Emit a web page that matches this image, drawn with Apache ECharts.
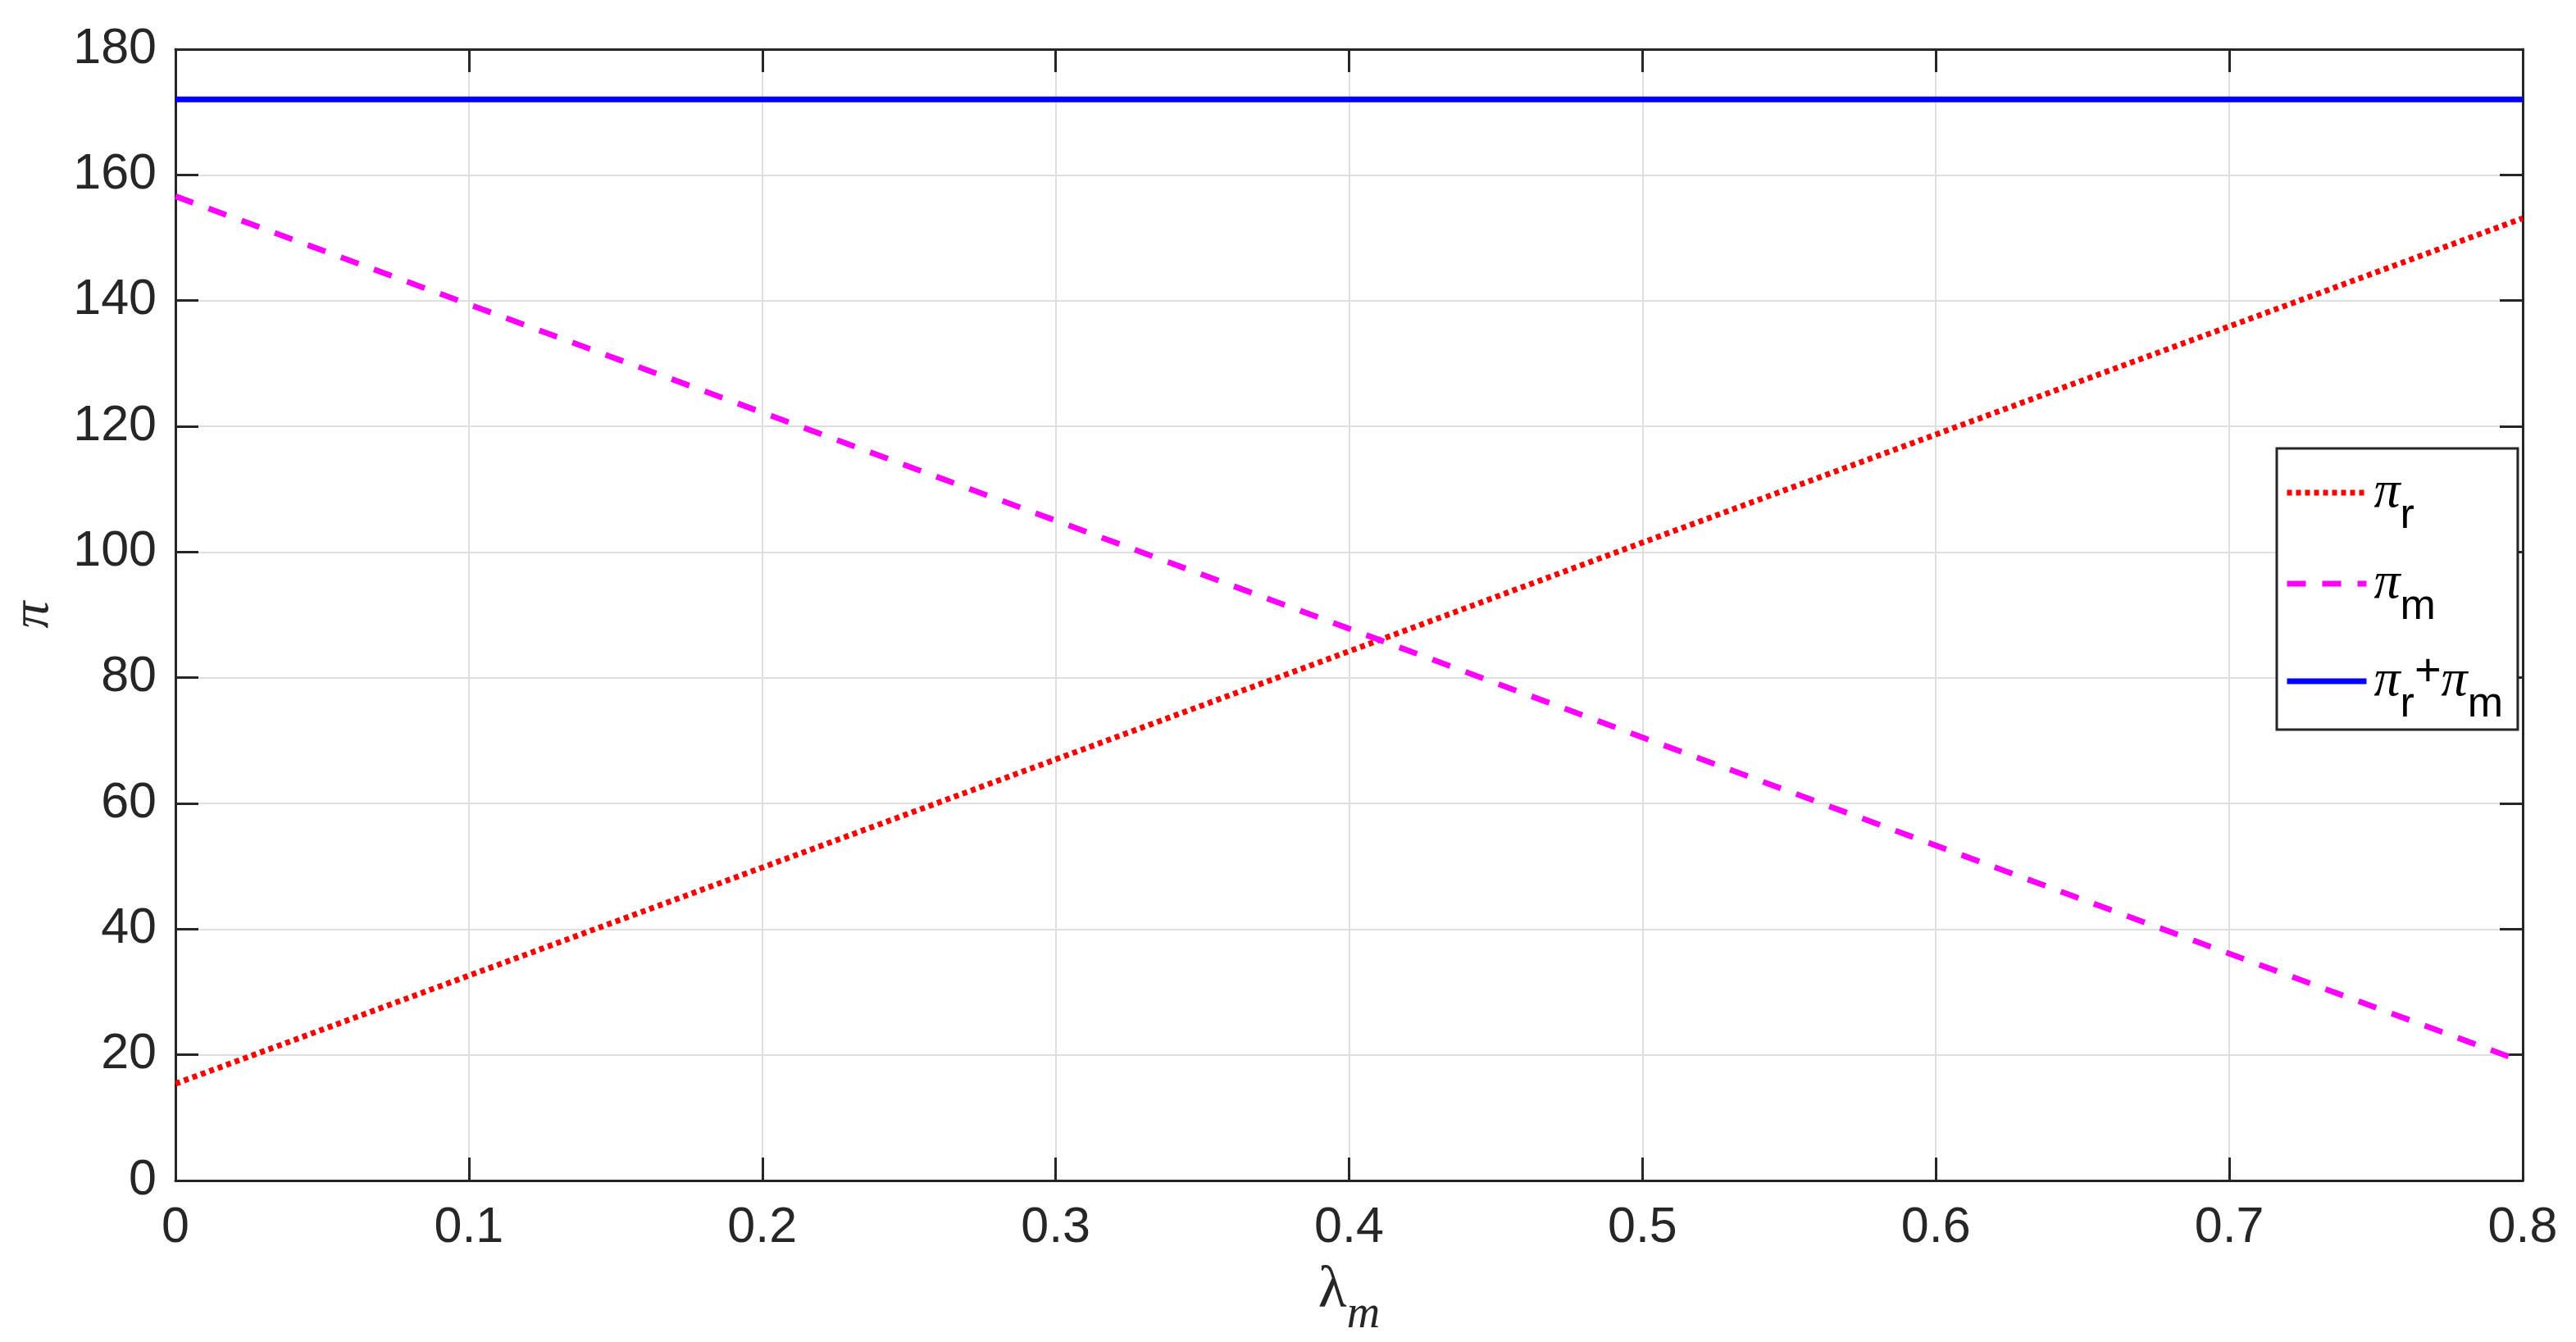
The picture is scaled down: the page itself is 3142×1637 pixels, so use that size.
<!DOCTYPE html>
<html>
<head>
<meta charset="utf-8">
<script src="https://cdn.jsdelivr.net/npm/echarts@6/dist/echarts.min.js"></script>
<style>
html,body{margin:0;padding:0;background:#fff;}
#chart{width:3142px;height:1637px;}
</style>
</head>
<body>
<div id="chart"></div>
<script>
// ---- data ----
const lambdaM = [0, 0.1, 0.2, 0.3, 0.4, 0.5, 0.6, 0.7, 0.8];
const piR   = [15.4, 32.6, 49.8, 67.0, 84.2, 101.5, 118.7, 135.9, 153.1];
const piM   = [156.6, 139.4, 122.2, 105.0, 87.8, 70.5, 53.3, 36.1, 18.9];
const piSum = [172, 172, 172, 172, 172, 172, 172, 172, 172];
const yTicks = [0, 20, 40, 60, 80, 100, 120, 140, 160, 180];
const xTicks = [0, 0.1, 0.2, 0.3, 0.4, 0.5, 0.6, 0.7, 0.8];
const seriesNames = ['πr', 'πm', 'πr+πm'];

const pair = (xs, ys) => xs.map((x, i) => [x, ys[i]]);
const axisColor = '#262626';
const gridColor = '#dfdfdf';
const sans = '"Liberation Sans", Arial, Helvetica, sans-serif';
const serif = '"Liberation Serif", "DejaVu Serif", serif';

const chart = echarts.init(document.getElementById('chart'), null, {renderer: 'canvas'});

const baseTick = {show: true, inside: true, length: 28, lineStyle: {color: axisColor, width: 3}};
const baseLine = {show: true, onZero: false, lineStyle: {color: axisColor, width: 3}};

const legendRich = {
  p0:  {fontFamily: serif, fontStyle: 'italic', fontSize: 64, lineHeight: 80, height: 62, verticalAlign: 'middle', color: '#000', padding: [0, 0, 0, 4]},
  p:   {fontFamily: serif, fontStyle: 'italic', fontSize: 64, lineHeight: 80, height: 62, verticalAlign: 'middle', color: '#000'},
  s:   {fontFamily: sans, fontSize: 52, lineHeight: 80, height: 22, verticalAlign: 'bottom', color: '#000'},
  sup: {fontFamily: sans, fontSize: 56, lineHeight: 80, height: 60, verticalAlign: 'top', color: '#000'}
};
const legendText = {
  'πr': '{p0|π}{s|r}',
  'πm': '{p0|π}{s|m}',
  'πr+πm': '{p0|π}{s|r}{sup|+}{p|π}{s|m}'
};

chart.setOption({
  animation: false,
  backgroundColor: '#fff',
  grid: {left: 213, right: 65, top: 60, bottom: 195, containLabel: false},
  legend: {
    orient: 'vertical',
    left: 2777,
    top: 547,
    padding: [22, 18, 4, 9],
    itemWidth: 97,
    itemHeight: 2,
    itemGap: 24,
    backgroundColor: '#fff',
    borderColor: axisColor,
    borderWidth: 3,
    data: seriesNames,
    itemStyle: {opacity: 0},
    lineStyle: {width: 7},
    formatter: name => legendText[name],
    textStyle: {rich: legendRich}
  },
  xAxis: [
    {
      type: 'value', min: 0, max: 0.8, interval: 0.1, position: 'bottom',
      name: '{l|λ}{m|m}', nameLocation: 'middle', nameGap: 102,
      nameTextStyle: {
        rich: {
          l: {fontFamily: serif, fontSize: 72, color: axisColor, lineHeight: 76, height: 66, verticalAlign: 'top'},
          m: {fontFamily: serif, fontStyle: 'italic', fontSize: 56, color: axisColor, lineHeight: 76, height: 28, verticalAlign: 'bottom'}
        }
      },
      axisLine: baseLine, axisTick: baseTick,
      axisLabel: {
        margin: 28, color: axisColor, fontFamily: sans, fontSize: 61,
        formatter: v => { const t = xTicks.find(x => Math.abs(x - v) < 1e-9); return t === undefined ? '' : String(t); }
      },
      splitLine: {show: true, lineStyle: {color: gridColor, width: 2}}
    },
    {
      type: 'value', min: 0, max: 0.8, interval: 0.1, position: 'top',
      axisLine: baseLine, axisTick: baseTick, axisLabel: {show: false}, splitLine: {show: false}
    }
  ],
  yAxis: [
    {
      type: 'value', min: 0, max: 180, interval: 20, position: 'left',
      name: 'π', nameLocation: 'middle', nameGap: 140,
      nameTextStyle: {fontFamily: serif, fontStyle: 'italic', fontSize: 66, color: axisColor},
      axisLine: baseLine, axisTick: baseTick,
      axisLabel: {
        margin: 23, color: axisColor, fontFamily: sans, fontSize: 61,
        formatter: v => { const t = yTicks.find(y => y === v); return t === undefined ? '' : String(t); }
      },
      splitLine: {show: true, lineStyle: {color: gridColor, width: 2}}
    },
    {
      type: 'value', min: 0, max: 180, interval: 20, position: 'right',
      axisLine: baseLine, axisTick: baseTick, axisLabel: {show: false}, splitLine: {show: false}
    }
  ],
  series: [
    {
      name: seriesNames[0], type: 'line', data: pair(lambdaM, piR), symbol: 'none',
      lineStyle: {color: '#ff0000', width: 7, type: [6, 5], cap: 'butt'},
      itemStyle: {color: '#ff0000'}, z: 3
    },
    {
      name: seriesNames[1], type: 'line', data: pair(lambdaM, piM), symbol: 'none',
      lineStyle: {color: '#ff00ff', width: 7, type: [23, 20], cap: 'butt'},
      itemStyle: {color: '#ff00ff'}, z: 3
    },
    {
      name: seriesNames[2], type: 'line', data: pair(lambdaM, piSum), symbol: 'none',
      lineStyle: {color: '#0000ff', width: 7, type: 'solid'},
      itemStyle: {color: '#0000ff'}, z: 3
    }
  ]
});
</script>
</body>
</html>
